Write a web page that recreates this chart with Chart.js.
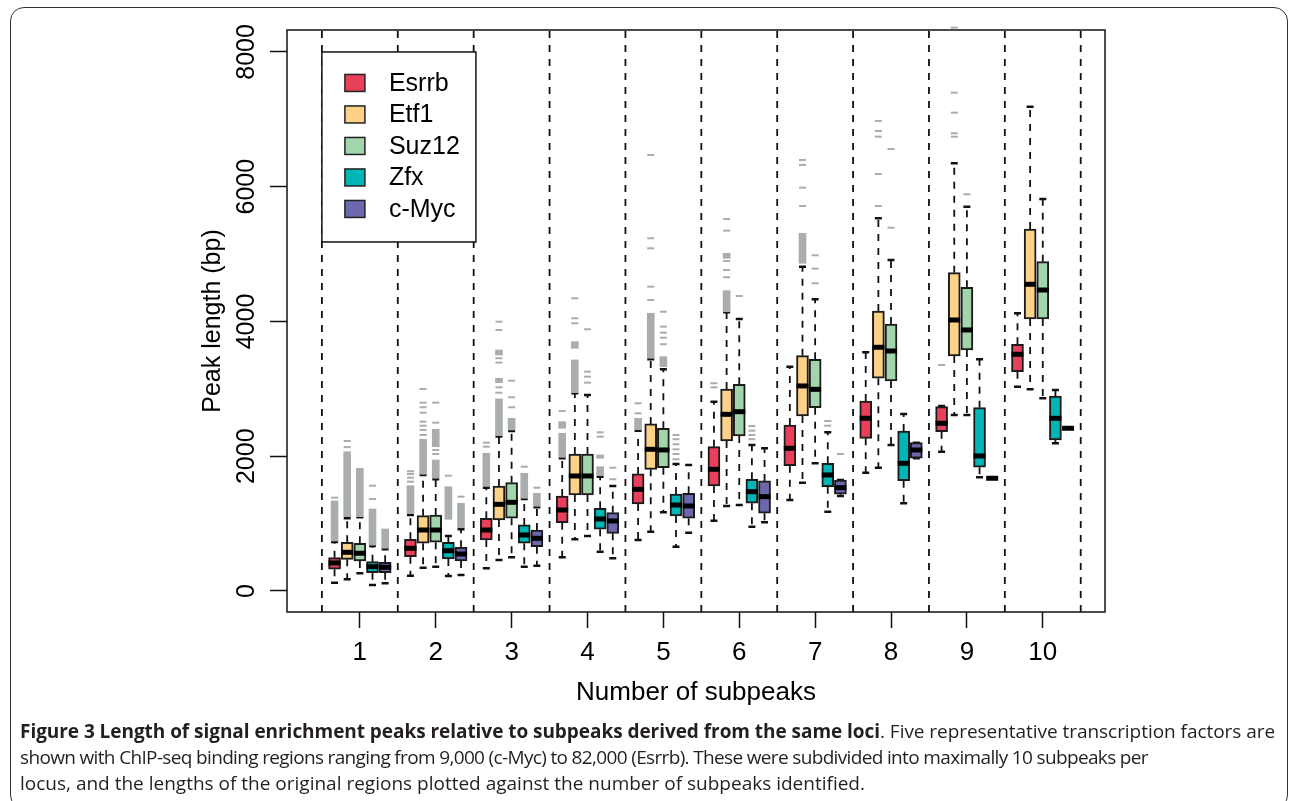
<!DOCTYPE html>
<html>
<head>
<meta charset="utf-8">
<script src="https://cdn.jsdelivr.net/npm/chart.js@4"></script>
<style>
  html, body { margin: 0; padding: 0; background: #fff; }
  body { width: 1290px; height: 801px; position: relative; overflow: hidden; }
  .frame { position: absolute; left: 10px; top: 7px; width: 1278px; height: 802px; border: 1.5px solid #333; border-radius: 14px; box-sizing: border-box; }
  #chart { position: absolute; left: 0; top: 0; }
  .caption { position: absolute; left: 20px; top: 718px; font-family: 'Open Sans', sans-serif; font-size: 19px; line-height: 26px; color: #231f20; white-space: nowrap; }
  .caption div span { display: inline-block; }
  .caption b { font-weight: 700; }
</style>
</head>
<body>
<div class="frame"></div>
<canvas id="chart" width="1290" height="720"></canvas>
<div class="caption">
  <div><span data-w="1255"><b>Figure 3 Length of signal enrichment peaks relative to subpeaks derived from the same loci</b>. Five representative transcription factors are</span></div>
  <div><span data-w="1128">shown with ChIP-seq binding regions ranging from 9,000 (c-Myc) to 82,000 (Esrrb). These were subdivided into maximally 10 subpeaks per</span></div>
  <div><span data-w="845">locus, and the lengths of the original regions plotted against the number of subpeaks identified.</span></div>
</div>
<script>
const categories = [1, 2, 3, 4, 5, 6, 7, 8, 9, 10];
const dividers = [0.5, 1.5, 2.5, 3.5, 4.5, 5.5, 6.5, 7.5, 8.5, 9.5, 10.5];
const yTicks = [0, 2000, 4000, 6000, 8000];
const seriesNames = ['Esrrb', 'Etf1', 'Suz12', 'Zfx', 'c-Myc'];
const seriesColors = ['#E8405A', '#FDD188', '#A3D5AC', '#00B5B5', '#6B68AE'];

// [lower whisker, Q1, median, Q3, upper whisker] per number of subpeaks
const esrrbStats = [
  [123, 322, 416, 494, 727], [227, 509, 634, 767, 1128], [337, 757, 905, 1079, 1533],
  [500, 1014, 1202, 1410, 1969], [757, 1291, 1509, 1737, 2379], [1043, 1558, 1806, 2142, 2810],
  [1351, 1860, 2118, 2464, 3329], [1756, 2266, 2563, 2820, 3543], [2067, 2364, 2489, 2735, 2746],
  [3032, 3255, 3513, 3662, 4122]
];
const etf1Stats = [
  [174, 470, 574, 723, 1079], [346, 708, 905, 1118, 1722], [460, 1054, 1286, 1558, 2291],
  [767, 1425, 1707, 2033, 2934], [880, 1806, 2103, 2479, 3439], [1262, 2226, 2622, 2998, 4136],
  [1607, 2597, 3043, 3493, 4813], [1830, 3157, 3617, 4156, 5531], [2612, 3488, 4022, 4724, 6348],
  [2993, 4037, 4552, 5373, 7188]
];
const suz12Stats = [
  [263, 445, 560, 708, 1094], [361, 723, 905, 1128, 1658], [500, 1079, 1316, 1607, 2375],
  [816, 1425, 1707, 2033, 2909], [1168, 1830, 2093, 2415, 3290], [1276, 2301, 2661, 3068, 4037],
  [1895, 2721, 2993, 3439, 4329], [2167, 3117, 3562, 3963, 4913], [2612, 3577, 3874, 4507, 5704],
  [2860, 4037, 4467, 4888, 5818]
];
const zfxStats = [
  [89, 272, 361, 435, 668], [223, 475, 598, 723, 816], [361, 708, 831, 980, 1365],
  [583, 916, 1069, 1227, 1696], [658, 1113, 1276, 1440, 1885], [954, 1302, 1474, 1658, 2167],
  [1177, 1548, 1722, 1895, 2355], [1302, 1637, 1895, 2375, 2627], [1688, 1836, 2004, 2721, 3439],
  [2192, 2241, 2563, 2894, 2983]
];
const mycStats = [
  [114, 272, 352, 426, 619], [237, 445, 549, 649, 916], [376, 658, 782, 905, 1242],
  [485, 856, 1039, 1162, 1558], [865, 1079, 1262, 1450, 1870], [1020, 1153, 1400, 1633, 2118],
  [1410, 1435, 1533, 1647, 1647], [1970, 1970, 2093, 2201, 2201], [1673, 1673, 1673, 1673, 1673],
  [2415, 2415, 2415, 2415, 2415]
];

// single outliers
const esrrbOutliers = [[1385], [1622, 1682, 1737, 1777], [2142, 2201], [2672], [2637, 2786], [3023, 3083], [], [], [3354], []];
const etf1Outliers = [[2135, 2226], [2315, 2390, 2453, 2513, 2646, 2727, 2795, 2998], [2943, 3023, 3389, 3454, 3874, 3997],
  [3973, 4047, 4344], [4319, 4517, 5086, 5235, 6471], [4656, 4764, 4898, 5348, 5521], [5714, 5986, 6323, 6397],
  [5714, 6189, 6743, 6827, 6976], [6743, 6793, 7099, 7396, 8361], []];
const suz12Outliers = [[], [2033, 2093, 2498, 2795], [2727, 2875, 3121], [3092, 3181, 3255, 3884], [3662, 3759, 3834, 3923, 4145],
  [4378], [4567, 4784, 4982], [5392, 6560], [5888], []];
const zfxOutliers = [[1366, 1563], [1711], [1845], [2290, 2355], [1955, 2033, 2103, 2177, 2252, 2315], [2252, 2315, 2379, 2449],
  [2453, 2523], [], [], []];
const mycOutliers = [[], [1400], [1533], [1658, 1830], [], [], [2033], [], [], []];

// dense stacks of outliers that merge into a solid bar: [from, to]
const esrrbOutlierRuns = [[[742, 1336]], [[1150, 1563]], [[1563, 2044]], [[1984, 2341], [2415, 2513]], [[2393, 2563]], [], [], [], [], []];
const etf1OutlierRuns = [[[1103, 2067]], [[1732, 2252]], [[2305, 2850], [3092, 3157], [3503, 3577]], [[2943, 3429], [3602, 3700]],
  [[3454, 4122]], [[4145, 4457], [4938, 5012]], [[4864, 5309]], [], [], []];
const suz12OutlierRuns = [[[1103, 1821]], [[1673, 1944], [2142, 2400]], [[2390, 2563]], [], [[3329, 3478]], [], [], [], [], []];
const zfxOutlierRuns = [[[680, 1217]], [[1064, 1548]], [[1376, 1747]], [[1711, 1845], [1970, 2019]], [], [], [], [], [], []];
const mycOutlierRuns = [[[634, 920]], [[939, 1301]], [[1257, 1450]], [], [], [], [], [], [], []];

const allStats = [esrrbStats, etf1Stats, suz12Stats, zfxStats, mycStats];
const allOutliers = [esrrbOutliers, etf1Outliers, suz12Outliers, zfxOutliers, mycOutliers];
const allRuns = [esrrbOutlierRuns, etf1OutlierRuns, suz12OutlierRuns, zfxOutlierRuns, mycOutlierRuns];

const FONT = "'Liberation Sans', Arial, Helvetica, sans-serif";
const GRAY = '#A9ADAD';
const slot = j => (j - 2) / 6;

// stretch each caption line to the width it has in the figure
document.querySelectorAll('.caption span[data-w]').forEach(el => {
  const target = +el.dataset.w;
  const n = el.textContent.length;
  const w = el.getBoundingClientRect().width;
  el.style.letterSpacing = ((target - w) / n).toFixed(3) + 'px';
});

const datasets = [];
allStats.forEach((stats, j) => {
  datasets.push({
    type: 'bar',
    label: seriesNames[j],
    data: stats.map((s, i) => ({ x: categories[i] + slot(j), y: [s[1], s[3]] })),
    backgroundColor: seriesColors[j],
    borderColor: '#1b1b1b',
    borderWidth: 2,
    borderSkipped: false,
    maxBarThickness: 12,
    barPercentage: 1,
    categoryPercentage: 1,
    grouped: false
  });
});

const runPoints = [];
allRuns.forEach((runs, j) => runs.forEach((list, i) => list.forEach(r => {
  runPoints.push({ x: categories[i] + slot(j), y: r });
})));
datasets.push({
  type: 'bar',
  label: 'outlier stacks',
  data: runPoints,
  backgroundColor: GRAY,
  borderWidth: 0,
  maxBarThickness: 7,
  barPercentage: 1,
  categoryPercentage: 1,
  grouped: false
});

const outlierPoints = [];
allOutliers.forEach((groups, j) => groups.forEach((list, i) => list.forEach(v => {
  outlierPoints.push({ x: categories[i] + slot(j), y: v });
})));
datasets.push({
  type: 'scatter',
  label: 'outliers',
  data: outlierPoints,
  pointStyle: 'line',
  radius: 3.5,
  borderColor: GRAY,
  borderWidth: 2,
  clip: false
});

const boxExtras = {
  id: 'boxExtras',
  beforeDatasetsDraw(chart) {
    const { ctx, chartArea, scales: { x, y } } = chart;
    ctx.save();
    ctx.strokeStyle = '#111';
    ctx.lineWidth = 1.8;
    ctx.setLineDash([7, 7]);
    dividers.forEach(d => {
      const px = x.getPixelForValue(d);
      ctx.beginPath();
      ctx.moveTo(px, chartArea.bottom);
      ctx.lineTo(px, chartArea.top);
      ctx.stroke();
    });
    // whiskers
    allStats.forEach((stats, j) => stats.forEach((s, i) => {
      const px = x.getPixelForValue(categories[i] + slot(j));
      ctx.setLineDash([7, 7]);
      ctx.lineWidth = 1.8;
      ctx.beginPath();
      ctx.moveTo(px, y.getPixelForValue(s[3]));
      ctx.lineTo(px, y.getPixelForValue(s[4]));
      ctx.moveTo(px, y.getPixelForValue(s[1]));
      ctx.lineTo(px, y.getPixelForValue(s[0]));
      ctx.stroke();
      ctx.setLineDash([]);
      ctx.lineWidth = 2.5;
      ctx.beginPath();
      [s[0], s[4]].forEach(v => {
        const py = y.getPixelForValue(v);
        ctx.moveTo(px - 3.5, py);
        ctx.lineTo(px + 3.5, py);
      });
      ctx.stroke();
    }));
    ctx.restore();
  },
  afterDatasetsDraw(chart) {
    const { ctx, chartArea, scales: { x, y } } = chart;
    ctx.save();
    // medians
    ctx.fillStyle = '#000';
    allStats.forEach((stats, j) => stats.forEach((s, i) => {
      const px = x.getPixelForValue(categories[i] + slot(j));
      ctx.fillRect(px - 6, y.getPixelForValue(s[2]) - 2.5, 12, 5);
    }));
    // plot frame
    ctx.strokeStyle = '#111';
    ctx.lineWidth = 1.5;
    ctx.strokeRect(chartArea.left, chartArea.top, chartArea.right - chartArea.left, chartArea.bottom - chartArea.top);
    // legend box anchored at (0.5, 8000)
    const lx = x.getPixelForValue(0.5);
    const ly = y.getPixelForValue(8000);
    ctx.fillStyle = '#fff';
    ctx.fillRect(lx, ly, 154, 190);
    ctx.strokeRect(lx, ly, 154, 190);
    ctx.font = '25px ' + FONT;
    ctx.textBaseline = 'middle';
    ctx.textAlign = 'left';
    seriesNames.forEach((name, j) => {
      const cy = ly + 31 + j * 31.5;
      ctx.fillStyle = seriesColors[j];
      ctx.fillRect(lx + 23, cy - 8.5, 20, 17);
      ctx.lineWidth = 1.5;
      ctx.strokeStyle = '#222';
      ctx.strokeRect(lx + 23, cy - 8.5, 20, 17);
      ctx.fillStyle = '#000';
      ctx.fillText(name, lx + 67, cy + 1);
    });
    // rotated y tick labels
    ctx.font = '25px ' + FONT;
    ctx.textAlign = 'center';
    ctx.textBaseline = 'middle';
    ctx.fillStyle = '#000';
    yTicks.forEach(v => {
      ctx.save();
      ctx.translate(chartArea.left - 40, y.getPixelForValue(v));
      ctx.rotate(-Math.PI / 2);
      ctx.fillText(String(v), 0, 0);
      ctx.restore();
    });
    ctx.restore();
  }
};

new Chart(document.getElementById('chart'), {
  type: 'bar',
  data: { datasets },
  options: {
    responsive: false,
    animation: false,
    events: [],
    layout: { padding: { left: 0, top: 30, right: 185, bottom: 0 } },
    plugins: { legend: { display: false }, tooltip: { enabled: false } },
    scales: {
      x: {
        type: 'linear',
        offset: false,
        min: 0.04,
        max: 10.82,
        afterBuildTicks: scale => { scale.ticks = categories.map(v => ({ value: v })); },
        afterFit: scale => { scale.height = 108; },
        grid: { display: true, offset: false, drawOnChartArea: false, drawTicks: true, tickLength: 16, tickColor: '#111', tickWidth: 1.5 },
        border: { display: false },
        ticks: { color: '#000', font: { family: FONT, size: 26 }, padding: 9, maxRotation: 0, autoSkip: false },
        title: { display: true, text: 'Number of subpeaks', color: '#000', font: { family: FONT, size: 26 }, padding: { top: 0, bottom: 12 } }
      },
      y: {
        type: 'linear',
        min: -312,
        max: 8326,
        afterBuildTicks: scale => { scale.ticks = yTicks.map(v => ({ value: v })); },
        afterFit: scale => { scale.width = 287; },
        grid: { display: true, drawOnChartArea: false, drawTicks: true, tickLength: 17, tickColor: '#111', tickWidth: 1.5 },
        border: { display: false },
        ticks: { display: false },
        title: { display: true, text: 'Peak length (bp)', color: '#000', font: { family: FONT, size: 25 }, padding: { top: 198, bottom: 0 } }
      }
    }
  },
  plugins: [boxExtras]
});
</script>
</body>
</html>
